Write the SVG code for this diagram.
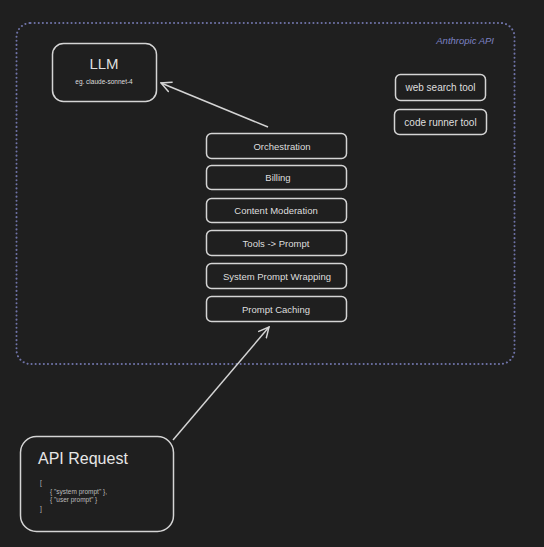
<svg xmlns="http://www.w3.org/2000/svg" width="544" height="547" viewBox="0 0 544 547">
<defs>
<style>
.bg{fill:#1f1f1f}
.box{fill:none;stroke:#d4d4d4;stroke-width:1.5}
.t{font-family:"Liberation Sans",Arial,sans-serif;fill:#dedede;text-anchor:middle}
.conn{stroke:#d4d4d4;stroke-width:1.5;fill:none}
</style>
<marker id="ah" viewBox="0 0 12 12" refX="11" refY="6" markerWidth="12" markerHeight="12" markerUnits="userSpaceOnUse" orient="auto">
<path d="M1,1 L11,6 L1,11" fill="none" stroke="#d4d4d4" stroke-width="1.5" stroke-linecap="round"/>
</marker>
</defs>
<rect class="bg" x="0" y="0" width="544" height="547"/>
<g id="anthropic-api">
<rect x="16.5" y="23" width="498" height="341" rx="14" fill="none" stroke="#6f73a8" stroke-width="2" stroke-dasharray="0.1 4" stroke-linecap="round"/>
<text x="494" y="44" font-family="Liberation Sans,Arial,sans-serif" font-style="italic" font-size="9.5" fill="#7d82c4" text-anchor="end">Anthropic API</text>
</g>
<g id="llm">
<rect class="box" x="52.5" y="43.5" width="104" height="58" rx="11"/>
<text class="t" x="104" y="69" font-size="15">LLM</text>
<text class="t" x="104" y="84" font-size="6.5" fill="#bdbdbd">eg. claude-sonnet-4</text>
</g>
<g id="web-search-tool">
<rect class="box" x="395.5" y="74.5" width="90" height="26" rx="5"/>
<text class="t" x="440.5" y="91" font-size="10">web search tool</text>
</g>
<g id="code-runner-tool">
<rect class="box" x="394.5" y="109.5" width="92" height="25" rx="5"/>
<text class="t" x="440.5" y="125.5" font-size="10">code runner tool</text>
</g>
<g id="orchestration">
<rect class="box" x="206.5" y="133.5" width="140" height="25" rx="5"/>
<text class="t" x="282" y="149.5" font-size="9.5">Orchestration</text>
</g>
<g id="billing">
<rect class="box" x="206.5" y="165.5" width="140" height="24" rx="5"/>
<text class="t" x="278" y="181" font-size="9.5">Billing</text>
</g>
<g id="content-moderation">
<rect class="box" x="206.5" y="198.5" width="140" height="24" rx="5"/>
<text class="t" x="276" y="214" font-size="9.5">Content Moderation</text>
</g>
<g id="tools-prompt">
<rect class="box" x="206.5" y="230.5" width="140" height="25" rx="5"/>
<text class="t" x="276" y="246.5" font-size="9.5">Tools -&gt; Prompt</text>
</g>
<g id="system-prompt-wrapping">
<rect class="box" x="206.5" y="263.5" width="140" height="25" rx="5"/>
<text class="t" x="277" y="279.5" font-size="9.5">System Prompt Wrapping</text>
</g>
<g id="prompt-caching">
<rect class="box" x="206.5" y="296.5" width="140" height="25" rx="5"/>
<text class="t" x="276" y="312.5" font-size="9.5">Prompt Caching</text>
</g>
<g id="api-request">
<rect class="box" x="20.5" y="436.5" width="153" height="95" rx="16"/>
<text x="38" y="464" font-family="Liberation Sans,Arial,sans-serif" font-size="16" fill="#e6e6e6">API Request</text>
<g font-family="Liberation Sans,Arial,sans-serif" font-size="6.5" fill="#bdbdbd">
<text x="40" y="485">[</text>
<text x="50" y="494">{ "system prompt" },</text>
<text x="50" y="502">{ "user prompt" }</text>
<text x="40" y="511">]</text>
</g>
</g>
<g id="connectors">
<path class="conn" d="M268,127 L161,83" marker-end="url(#ah)"/>
<path class="conn" d="M173,440 L269,327" marker-end="url(#ah)"/>
</g>
</svg>
